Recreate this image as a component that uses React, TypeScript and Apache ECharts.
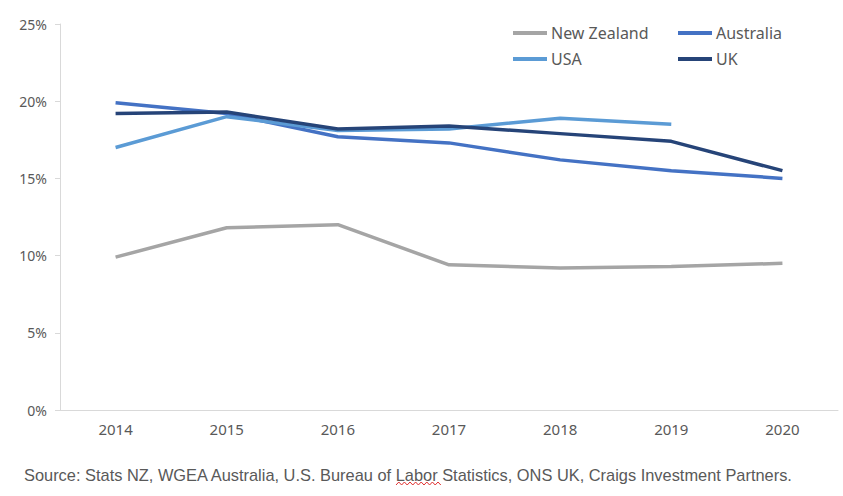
import React, { useEffect, useRef } from "react";
import * as echarts from "echarts";

const years = ["2014", "2015", "2016", "2017", "2018", "2019", "2020"];
const newZealand = [9.9, 11.8, 12.0, 9.4, 9.2, 9.3, 9.5];
const australia = [19.9, 19.2, 17.7, 17.3, 16.2, 15.5, 15.0];
const usa = [17.0, 19.0, 18.1, 18.2, 18.9, 18.5, null];
const uk = [19.2, 19.3, 18.2, 18.4, 17.9, 17.4, 15.5];
const sourceText =
  "Source: Stats NZ, WGEA Australia, U.S. Bureau of Labor Statistics, ONS UK, Craigs Investment Partners.";

const FONT = "'Noto Sans', sans-serif";
const TXT = "#595959";

export default function App() {
  const ref = useRef<HTMLDivElement>(null);
  useEffect(() => {
    document.body.style.margin = "0";
    if (!ref.current) return;
    const chart = echarts.init(ref.current, null, { renderer: "svg" });
    const mk = (name: string, data: (number | null)[], color: string) => ({
      name,
      type: "line",
      data,
      symbol: "none",
      lineStyle: { width: 3.5, color },
      itemStyle: { color },
      connectNulls: false,
    });
    const squiggle: number[][] = [];
    for (let i = 0; i <= 16; i++) squiggle.push([396 + i * 2.8, i % 2 === 0 ? 485 : 482]);
    const legendBase = {
      orient: "vertical",
      top: 25,
      padding: 0,
      itemWidth: 34,
      itemHeight: 4,
      itemGap: 10,
      icon: "rect",
      textStyle: { color: TXT, fontSize: 16, fontFamily: FONT, padding: [0, 0, 0, -1] },
    };
    chart.setOption({
      animation: false,
      textStyle: { fontFamily: FONT },
      grid: { left: 60, right: 5, top: 24, bottom: 86 },
      legend: [
        { ...legendBase, data: ["New Zealand", "USA"], left: 513 },
        { ...legendBase, data: ["Australia", "UK"], left: 678 },
      ],
      xAxis: {
        type: "category",
        data: years,
        boundaryGap: true,
        axisLine: { show: true, lineStyle: { color: "#d9d9d9", width: 1 } },
        axisTick: { show: false },
        axisLabel: { color: TXT, fontSize: 15, margin: 11, fontFamily: FONT },
      },
      yAxis: {
        type: "value",
        min: 0,
        max: 25,
        interval: 5,
        splitLine: { show: false },
        axisLine: { show: true, lineStyle: { color: "#d9d9d9", width: 1 } },
        axisTick: { show: true, length: 5, lineStyle: { color: "#d9d9d9" } },
        axisLabel: {
          color: TXT,
          fontSize: 14,
          margin: 13,
          fontFamily: FONT,
          formatter: (v: number) => `${v}%`,
        },
      },
      series: [
        mk("New Zealand", newZealand, "#a5a5a5"),
        mk("Australia", australia, "#4472c4"),
        mk("USA", usa, "#5b9bd5"),
        mk("UK", uk, "#264478"),
      ],
      graphic: [
        {
          type: "text",
          left: 24,
          top: 467,
          style: { text: sourceText, fill: TXT, fontSize: 16.4, fontFamily: "'Liberation Sans', sans-serif" },
        },
        {
          type: "polyline",
          shape: { points: squiggle },
          style: { stroke: "#e03030", lineWidth: 1, fill: null },
          silent: true,
        },
      ],
    });
    return () => chart.dispose();
  }, []);
  return <div ref={ref} style={{ width: 843, height: 496 }} />;
}
